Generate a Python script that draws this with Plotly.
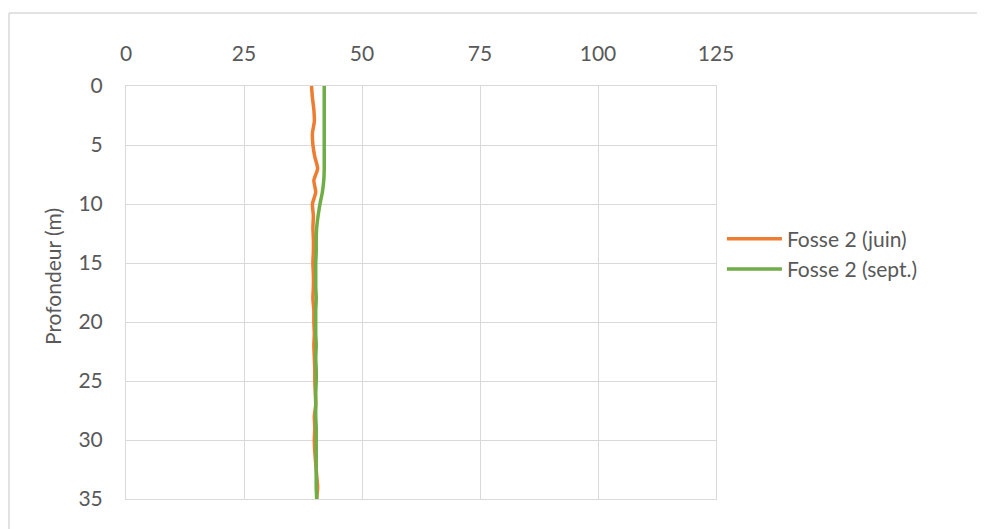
import plotly.graph_objects as go

depth = list(range(0, 36))

temp_juin = [39.3, 39.5, 39.8, 39.9, 39.5, 39.6, 40.0, 40.6, 39.8, 40.2,
             39.5, 39.7, 39.6, 39.7, 39.7, 39.6, 39.7, 39.7, 39.6, 39.8,
             39.8, 39.9, 39.8, 39.9, 40.0, 40.0, 40.1, 40.2, 39.9, 40.0,
             39.9, 40.0, 40.2, 40.4, 40.6, 40.4]

temp_sept = [42.0, 42.0, 42.0, 42.0, 42.0, 42.0, 42.0, 42.0, 41.9, 41.6,
             41.1, 40.7, 40.4, 40.3, 40.3, 40.2, 40.2, 40.2, 40.3, 40.2,
             40.2, 40.2, 40.3, 40.2, 40.3, 40.3, 40.2, 40.2, 40.2, 40.3,
             40.3, 40.3, 40.3, 40.3, 40.3, 40.4]

series_names = ["Fosse 2 (juin)", "Fosse 2 (sept.)"]
colors = ["#ED7D31", "#70AD47"]

x_ticks = [0, 25, 50, 75, 100, 125]
y_ticks = [0, 5, 10, 15, 20, 25, 30, 35]
y_title = "Profondeur (m)"

FONT = "Lato"
TXT = "#595959"
GRID = "#d9d9d9"
FS = 21

fig = go.Figure()
for name, vals, col in zip(series_names, [temp_juin, temp_sept], colors):
    fig.add_trace(go.Scatter(
        x=vals, y=depth, mode="lines", name=name,
        line=dict(color=col, width=3.5, shape="spline", smoothing=0.6),
    ))

fig.update_layout(
    width=985, height=529,
    margin=dict(l=118, r=277, t=78, b=38),
    paper_bgcolor="white", plot_bgcolor="white",
    font=dict(family=FONT, color=TXT, size=FS),
    showlegend=True,
    legend=dict(x=1.01, y=0.593, xanchor="left", yanchor="middle",
                font=dict(family=FONT, size=FS, color=TXT),
                bgcolor="rgba(0,0,0,0)", tracegroupgap=0, itemwidth=55),
    xaxis=dict(range=[0, 125], tickvals=x_ticks, side="top",
               showgrid=True, gridcolor=GRID, gridwidth=1,
               zeroline=False, showline=True, linecolor=GRID, linewidth=1,
               mirror=True, ticks="", ticklabelstandoff=16,
               tickfont=dict(family=FONT, size=FS, color=TXT)),
    yaxis=dict(range=[35, 0], tickvals=y_ticks, autorange=False,
               showgrid=True, gridcolor=GRID, gridwidth=1,
               zeroline=False, showline=True, linecolor=GRID, linewidth=1,
               mirror=True, ticks="", ticklabelstandoff=18,
               tickfont=dict(family=FONT, size=FS, color=TXT)),
    annotations=[
        dict(text=y_title, xref="paper", yref="paper",
             x=(52 - 126) / 590, y=(499 - 277) / 413,
             xanchor="center", yanchor="middle", textangle=-90,
             showarrow=False, font=dict(family=FONT, size=FS, color=TXT)),
    ],
    shapes=[
        dict(type="line", xref="paper", yref="paper",
             x0=(9 - 126) / 590, x1=2.0, y0=(499 - 13) / 413, y1=(499 - 13) / 413,
             line=dict(color=GRID, width=1.5)),
        dict(type="line", xref="paper", yref="paper",
             x0=(9 - 126) / 590, x1=(9 - 126) / 590, y0=(499 - 13) / 413, y1=-1.0,
             line=dict(color=GRID, width=1.5)),
    ],
)

fig.write_html("out.html")
